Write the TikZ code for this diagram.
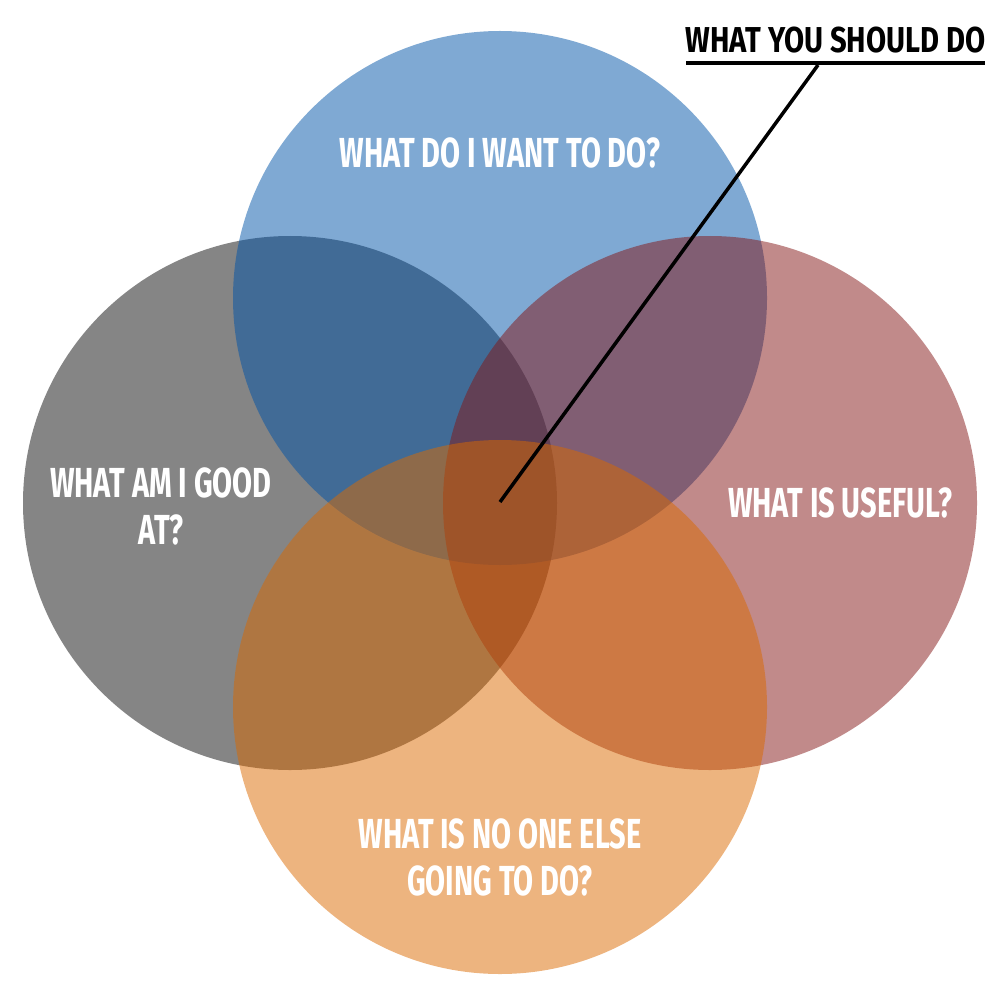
\documentclass[tikz,border=0pt]{standalone}
\usepackage{fontspec}
\setmainfont{Fira Sans}[FakeStretch=0.69]
\newfontfamily\titlefont{Fira Sans}[FakeStretch=0.81]
\definecolor{cgray}{RGB}{11,11,11}
\definecolor{cblue}{RGB}{0,83,167}
\definecolor{cpink}{RGB}{131,21,21}
\definecolor{corange}{RGB}{219,105,0}
\tikzset{
  disk/.style={circle, minimum size=534pt, inner sep=0pt, fill opacity=0.5, draw=none},
  qtext/.style={text=white, font=\fontsize{42}{47}\selectfont\bfseries, align=center, inner sep=0pt},
  ttext/.style={text=black, font=\titlefont\fontsize{36}{42}\selectfont\bfseries, inner sep=0pt}
}
\begin{document}
\begin{tikzpicture}[x=1pt,y=-1pt]
\useasboundingbox (0,0) rectangle (1000,1000);
\node[disk, fill=cgray] (gray) at (290,503) {};
\node[disk, fill=cblue] (blue) at (500,298) {};
\node[disk, fill=cpink] (pink) at (710,503) {};
\node[disk, fill=corange] (orange) at (500,707) {};
\node[qtext] (tq) at (500,153) {WHAT DO I WANT TO DO?};
\node[qtext] (lq) at (161,506) {WHAT AM I GOOD\\AT?};
\node[qtext] (rq) at (840,503) {WHAT IS USEFUL?};
\node[qtext] (bq) at (500,857) {WHAT IS NO ONE ELSE\\GOING TO DO?};
\node[ttext, anchor=base] (title) at (835.5,53) {WHAT YOU SHOULD DO};
\coordinate (ul) at (686,63);
\coordinate (ur) at (985,63);
\coordinate (lp) at (818,65);
\coordinate (ctr) at (500,502);
\draw[line width=4pt] (ul) -- (ur);
\draw[line width=3.5pt] (lp) -- (ctr);
\end{tikzpicture}
\end{document}
